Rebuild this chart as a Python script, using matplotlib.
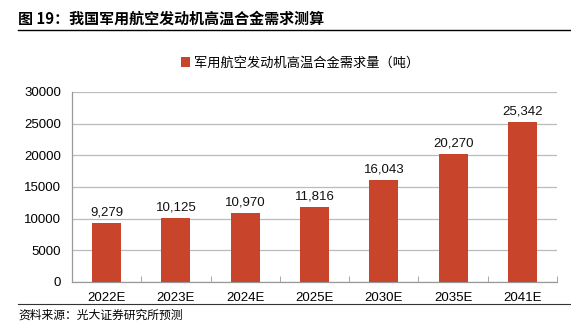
import matplotlib.pyplot as plt
import numpy as np

plt.rcParams['font.family'] = ['Liberation Sans', 'Noto Sans CJK SC', 'DejaVu Sans']

years = ['2022E', '2023E', '2024E', '2025E', '2030E', '2035E', '2041E']
demand = [9279, 10125, 10970, 11816, 16043, 20270, 25342]
yticks = [0, 5000, 10000, 15000, 20000, 25000, 30000]

title = '图 19：我国军用航空发动机高温合金需求测算'
legend_label = '军用航空发动机高温合金需求量（吨）'
source = '资料来源：光大证券研究所预测'

bar_color = '#C8442A'
cjk = ['Noto Sans CJK SC', 'DejaVu Sans']

fig = plt.figure(figsize=(5.71, 3.34), dpi=100)
W, H = 571, 334
ax = fig.add_axes([72 / W, 1 - 282 / H, (557 - 72) / W, (282 - 92) / H])

x = np.arange(len(years))
bars = ax.bar(x, demand, width=0.42, color=bar_color, label=legend_label, zorder=3)
for xi, v in zip(x, demand):
    ax.text(xi, v + 700, f'{v:,}', ha='center', va='bottom', fontsize=9.5, color='#111111')

ax.set_xlim(-0.5, len(years) - 0.5)
ax.set_ylim(0, 30000)
ax.set_yticks(yticks)
ax.set_yticklabels([str(t) for t in yticks], fontsize=9.5)
ax.set_xticks(x)
ax.set_xticklabels(years, fontsize=9.5)
ax.set_xticks(np.arange(-0.5, len(years)), minor=True)
ax.tick_params(axis='x', which='major', length=0, pad=7)
ax.tick_params(axis='x', which='minor', length=4, direction='in', color='#999999')
ax.tick_params(axis='y', length=0, pad=8)
ax.grid(axis='y', color='#BBBBBB', linewidth=0.9, zorder=0)
for s in ['top', 'right']:
    ax.spines[s].set_visible(False)
for s in ['left', 'bottom']:
    ax.spines[s].set_color('#999999')
    ax.spines[s].set_linewidth(0.9)

leg = fig.legend(handles=[bars], labels=[legend_label], loc='center',
                 bbox_to_anchor=(300 / W, 1 - 63 / H), frameon=False,
                 handlelength=0.7, handleheight=0.7, handletextpad=0.3,
                 prop={'family': cjk, 'size': 9.5})

fig.text(18 / W, 1 - 19 / H, title, fontsize=10.8, fontweight='bold',
         family=cjk, va='center', ha='left')
fig.add_artist(plt.Line2D([18 / W, 1], [1 - 30 / H, 1 - 30 / H], color='black', linewidth=1))
fig.add_artist(plt.Line2D([18 / W, 1], [1 - 304 / H, 1 - 304 / H], color='#333333', linewidth=0.8))
fig.text(18 / W, 1 - 315 / H, source, fontsize=8.5, family=cjk, va='center', ha='left')

fig.savefig('out.png', dpi=100)
